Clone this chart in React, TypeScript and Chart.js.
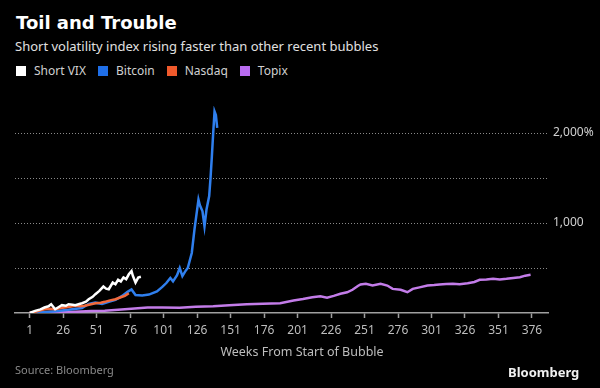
import React, { useEffect, useRef } from "react";
import { Chart, registerables } from "chart.js";

Chart.register(...registerables);

const seriesNames = ["Short VIX", "Bitcoin", "Nasdaq", "Topix"];
const lineColors = ["#ffffff", "#2f7fee", "#f26a3c", "#c37ce9"];
const swatchColors = ["#ffffff", "#1f6fe8", "#f05a2c", "#b96cf0"];
const drawOrder = [0, 2, 1, 3];

const vixWeeks = [1, 5, 9, 12, 15, 17, 20, 23, 25, 28, 30, 33, 35, 38, 40, 43, 45, 48, 50, 53, 56, 58, 60, 63, 65, 67, 69, 71, 73, 75, 77, 78, 80, 82, 84];
const vixValues = [0, 24, 40, 61, 75, 98, 42, 70, 87, 80, 98, 92, 87, 100, 109, 125, 153, 180, 209, 246, 294, 270, 264, 339, 320, 369, 350, 394, 376, 430, 465, 413, 339, 394, 402];

const btcWeeks = [1, 10, 20, 30, 40, 45, 50, 55, 60, 65, 70, 74, 77, 80, 85, 90, 96, 100, 103, 106, 108, 111, 113, 115, 117, 119, 122, 124, 127, 128, 130, 131.5, 133, 135, 136, 137, 138, 139, 140, 141];
const btcValues = [0, 8, 20, 35, 55, 100, 115, 100, 125, 145, 190, 235, 262, 200, 195, 205, 240, 290, 333, 389, 352, 420, 500, 410, 460, 500, 667, 926, 1259, 1200, 1130, 963, 1150, 1300, 1500, 1741, 2000, 2240, 2200, 2056];

const ndqWeeks = [1, 5, 9, 12, 16, 20, 24, 27, 31, 35, 39, 42, 46, 50, 54, 57, 61, 65, 69, 72, 75];
const ndqValues = [0, 13, 30, 42, 48, 42, 55, 61, 70, 80, 76, 80, 95, 109, 115, 124, 140, 153, 175, 191, 220];

const tpxWeeks = [1, 10, 20, 35, 47, 57, 72, 89, 100, 113, 125, 138, 150, 163, 175, 188, 198, 205, 212, 218, 223, 228, 233, 238, 242, 246, 248, 252, 257, 263, 268, 272, 278, 283, 287, 292, 298, 303, 307, 312, 317, 322, 328, 333, 337, 342, 347, 352, 357, 362, 367, 371, 375];
const tpxValues = [0, 3, 6, 13, 22, 26, 42, 60, 62, 57, 70, 75, 85, 98, 103, 109, 139, 155, 176, 185, 170, 190, 213, 230, 258, 300, 317, 325, 305, 325, 305, 268, 258, 231, 268, 285, 305, 310, 317, 322, 325, 320, 331, 345, 369, 372, 380, 372, 380, 390, 398, 415, 424];

const xTickValues = [1, 26, 51, 76, 101, 126, 151, 176, 201, 226, 251, 276, 301, 326, 351, 376];
const yTickValues = [0, 500, 1000, 1500, 2000];
const yTickLabels = ["", "", "1,000", "", "2,000%"];

const allWeeks = [vixWeeks, btcWeeks, ndqWeeks, tpxWeeks];
const allValues = [vixValues, btcValues, ndqValues, tpxValues];

const FONT = "'Noto Sans', sans-serif";

export default function App() {
  const ref = useRef<HTMLCanvasElement | null>(null);

  useEffect(() => {
    if (!ref.current) return;
    const datasets = seriesNames.map((name, i) => ({
      label: name,
      data: allWeeks[i].map((w, j) => ({ x: w, y: allValues[i][j] })),
      borderColor: lineColors[i],
      backgroundColor: lineColors[i],
      borderWidth: 2.5,
      pointRadius: 0,
      tension: 0,
      fill: false,
      order: drawOrder[i],
    }));
    const chart = new Chart(ref.current, {
      type: "line",
      data: { datasets },
      options: {
        animation: false,
        responsive: false,
        layout: { padding: { left: 15, top: 106, right: 0, bottom: 51 } },
        plugins: {
          legend: { display: false },
          title: { display: false },
          tooltip: { enabled: false },
        },
        scales: {
          x: {
            type: "linear",
            min: -10,
            max: 388,
            afterFit: (s: any) => {
              s.height = 24;
            },
            afterBuildTicks: (s: any) => {
              s.ticks = xTickValues.map((v) => ({ value: v }));
            },
            grid: {
              drawOnChartArea: false,
              drawTicks: true,
              tickLength: 5,
              tickColor: "#a0a0a0",
              tickWidth: 1.5,
            },
            border: { display: true, color: "#a0a0a0", width: 1.5 },
            ticks: {
              autoSkip: false,
              maxRotation: 0,
              padding: 5,
              color: "#bdbdbd",
              font: { family: FONT, size: 12 },
              callback: (v: any) => String(v),
            },
          },
          y: {
            type: "linear",
            position: "right",
            min: 0,
            max: 2300,
            afterFit: (s: any) => {
              s.width = 52;
            },
            afterBuildTicks: (s: any) => {
              s.ticks = yTickValues.map((v) => ({ value: v }));
            },
            grid: {
              drawTicks: false,
              lineWidth: 1,
              color: (c: any) => (c.tick && c.tick.value === 0 ? "rgba(0,0,0,0)" : "#8a8a8a"),
            },
            border: { display: false, dash: [1, 2] },
            ticks: {
              padding: 5,
              color: "#d0d0d0",
              font: { family: FONT, size: 12 },
              callback: (v: any) => {
                const k = yTickValues.indexOf(v);
                return k >= 0 ? yTickLabels[k] : "";
              },
            },
          },
        },
      },
    });
    return () => chart.destroy();
  }, []);

  return (
    <div
      style={{
        position: "fixed",
        left: 0,
        top: 0,
        width: 600,
        height: 388,
        background: "#000",
        overflow: "hidden",
        fontFamily: FONT,
      }}
    >
      <div
        style={{
          position: "absolute",
          left: 16,
          top: 14,
          fontFamily: "'DejaVu Sans', sans-serif",
          fontWeight: 700,
          fontSize: 18,
          lineHeight: "18px",
          color: "#fff",
          whiteSpace: "nowrap",
        }}
      >
        Toil and Trouble
      </div>
      <div
        style={{
          position: "absolute",
          left: 15,
          top: 40,
          fontSize: 13,
          lineHeight: "13px",
          color: "#e0e0e0",
          whiteSpace: "nowrap",
        }}
      >
        Short volatility index rising faster than other recent bubbles
      </div>
      <div
        style={{
          position: "absolute",
          left: 16,
          top: 64,
          display: "flex",
          alignItems: "center",
          fontSize: 12,
          lineHeight: "14px",
          color: "#d0d0d0",
          whiteSpace: "nowrap",
        }}
      >
        {seriesNames.map((n, i) => (
          <div key={n} style={{ display: "flex", alignItems: "center", marginRight: 12 }}>
            <span
              style={{
                display: "inline-block",
                width: 10,
                height: 10,
                background: swatchColors[i],
                marginRight: 8,
              }}
            />
            <span>{n}</span>
          </div>
        ))}
      </div>
      <canvas
        ref={ref}
        width={600}
        height={388}
        style={{ position: "absolute", left: 0, top: 0, width: 600, height: 388 }}
      />
      <div
        style={{
          position: "absolute",
          left: 302,
          top: 345,
          transform: "translateX(-50%)",
          fontSize: 12.5,
          lineHeight: "14px",
          color: "#bdbdbd",
          whiteSpace: "nowrap",
        }}
      >
        Weeks From Start of Bubble
      </div>
      <div
        style={{
          position: "absolute",
          left: 15,
          top: 364,
          fontSize: 11,
          lineHeight: "12px",
          color: "#8a8a8a",
          whiteSpace: "nowrap",
        }}
      >
        Source: Bloomberg
      </div>
      <div
        style={{
          position: "absolute",
          left: 508,
          top: 365,
          fontSize: 13,
          fontWeight: 700,
          lineHeight: "14px",
          color: "#f0f0f0",
          whiteSpace: "nowrap",
        }}
      >
        Bloomberg
      </div>
    </div>
  );
}
